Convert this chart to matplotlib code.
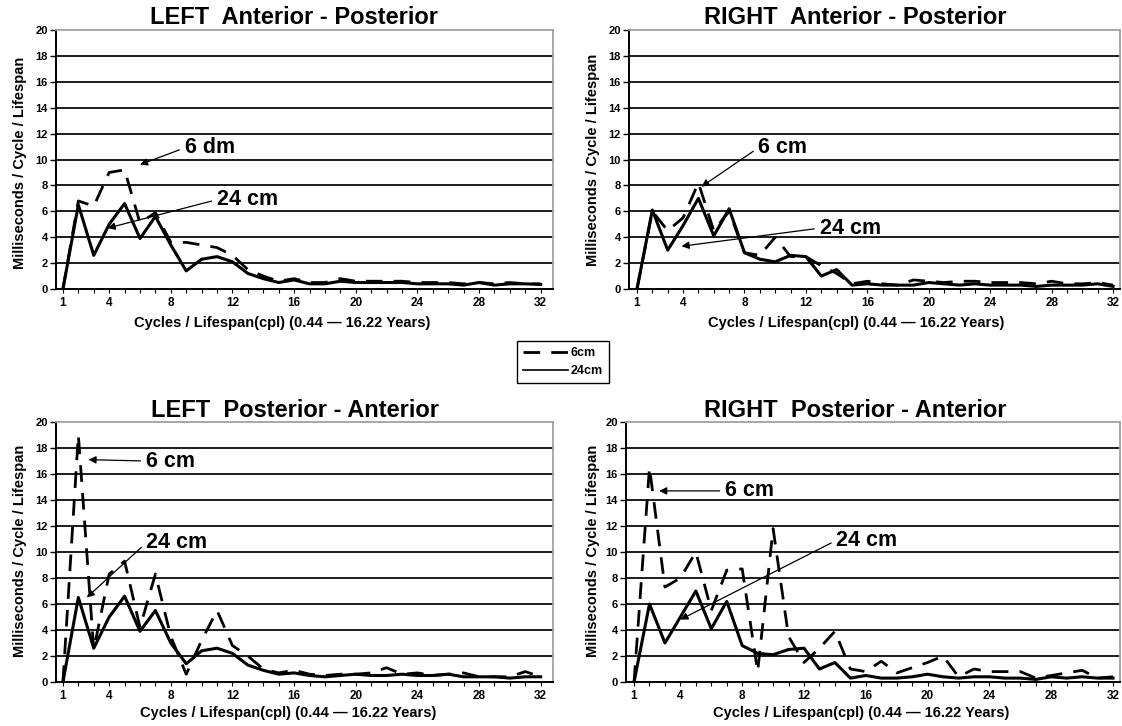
import matplotlib
matplotlib.use('Agg')
import matplotlib.pyplot as plt
from matplotlib.lines import Line2D

plt.rcParams['font.family'] = ['Liberation Sans', 'DejaVu Sans']
plt.rcParams['font.weight'] = 'bold'

# data
cycles = list(range(1, 33))
xtick_vals = [1, 4, 8, 12, 16, 20, 24, 28, 32]
ytick_vals = list(range(0, 21, 2))

left_ap_6 = [0, 6.8, 6.4, 9.0, 9.2, 5.1, 5.9, 3.6, 3.6, 3.4, 3.2, 2.6, 1.5, 1.0, 0.6, 0.8,
             0.5, 0.5, 0.8, 0.6, 0.6, 0.6, 0.6, 0.5, 0.5, 0.5, 0.4, 0.5, 0.4, 0.5, 0.4, 0.4]
left_ap_24 = [0, 6.5, 2.6, 5.0, 6.6, 3.9, 5.6, 3.4, 1.4, 2.3, 2.5, 2.1, 1.2, 0.8, 0.5, 0.7,
              0.4, 0.4, 0.6, 0.5, 0.5, 0.5, 0.5, 0.4, 0.4, 0.4, 0.3, 0.5, 0.3, 0.4, 0.4, 0.35]

right_ap_6 = [0, 6.0, 4.5, 5.5, 8.2, 4.5, 6.0, 2.8, 2.6, 4.0, 2.5, 2.5, 1.8, 1.2, 0.4, 0.6,
              0.4, 0.3, 0.7, 0.6, 0.5, 0.6, 0.6, 0.5, 0.5, 0.5, 0.4, 0.6, 0.4, 0.4, 0.5, 0.3]
right_ap_24 = [0, 6.1, 3.0, 4.9, 7.0, 4.1, 6.2, 2.8, 2.3, 2.1, 2.6, 2.5, 1.0, 1.5, 0.3, 0.4,
               0.3, 0.3, 0.3, 0.5, 0.4, 0.3, 0.4, 0.3, 0.3, 0.3, 0.2, 0.3, 0.3, 0.3, 0.4, 0.2]

left_pa_6 = [0, 19.0, 2.5, 8.3, 9.3, 4.2, 8.3, 3.5, 0.6, 3.2, 5.5, 2.8, 2.0, 1.0, 0.7, 0.9,
             0.6, 0.5, 0.6, 0.6, 0.7, 1.1, 0.6, 0.7, 0.5, 0.6, 0.7, 0.4, 0.4, 0.4, 0.8, 0.4]
left_pa_24 = [0, 6.5, 2.6, 5.0, 6.6, 3.9, 5.5, 3.0, 1.4, 2.4, 2.6, 2.2, 1.3, 0.9, 0.6, 0.7,
              0.5, 0.4, 0.5, 0.6, 0.5, 0.5, 0.6, 0.5, 0.5, 0.6, 0.4, 0.4, 0.4, 0.3, 0.4, 0.4]

right_pa_6 = [0, 16.5, 7.3, 8.0, 10.0, 5.5, 8.6, 8.7, 0.8, 11.8, 3.5, 1.5, 2.6, 3.9, 1.0, 0.8,
              1.6, 0.7, 1.1, 1.5, 2.0, 0.4, 1.0, 0.8, 0.8, 0.8, 0.3, 0.5, 0.7, 0.9, 0.3, 0.4]
right_pa_24 = [0, 6.0, 3.0, 5.0, 7.0, 4.1, 6.2, 2.8, 2.2, 2.1, 2.5, 2.6, 1.0, 1.5, 0.3, 0.5,
               0.3, 0.3, 0.4, 0.6, 0.4, 0.3, 0.4, 0.4, 0.3, 0.3, 0.2, 0.4, 0.3, 0.4, 0.3, 0.3]

titles = ['LEFT  Anterior - Posterior', 'RIGHT  Anterior - Posterior',
          'LEFT  Posterior - Anterior', 'RIGHT  Posterior - Anterior']
xlabel = 'Cycles / Lifespan(cpl) (0.44 \u2014 16.22 Years)'
ylabel = 'Milliseconds / Cycle / Lifespan'

W, H = 1122, 726
fig = plt.figure(figsize=(W / 100, H / 100), dpi=100)


def box(l, t, r, b):
    return [l / W, 1 - b / H, (r - l) / W, (b - t) / H]


def fx(x, y):
    return x / W, 1 - y / H


def draw_panel(pos, y6, y24, xlim, title, tpos, xlpos, ylpos, notes):
    ax = fig.add_axes(box(*pos))
    ax.set_xlim(*xlim)
    ax.set_ylim(0, 20)
    for y in ytick_vals[1:-1]:
        ax.axhline(y, color='#1c1c1c', lw=1.4, zorder=1)
    ax.plot(cycles, y6, color='black', lw=2.0, dashes=(6, 4), zorder=3)
    ax.plot(cycles, y24, color='black', lw=2.2, zorder=4)

    ax.spines['left'].set_color('black')
    ax.spines['bottom'].set_color('black')
    ax.spines['left'].set_linewidth(1.4)
    ax.spines['bottom'].set_linewidth(1.4)
    ax.spines['top'].set_color('#a0a0a0')
    ax.spines['right'].set_color('#a0a0a0')
    ax.spines['top'].set_linewidth(1.3)
    ax.spines['right'].set_linewidth(1.3)

    ax.set_yticks(ytick_vals)
    ax.set_yticklabels([str(v) for v in ytick_vals], fontsize=8, fontweight='bold')
    ax.set_xticks(xtick_vals)
    ax.set_xticklabels([str(v) for v in xtick_vals], fontsize=8.5, fontweight='bold')
    ax.set_xticks(cycles, minor=True)
    ax.tick_params(axis='y', length=4, width=1, pad=2)
    ax.tick_params(axis='x', which='both', length=3, width=0.8, pad=3)

    fig.text(*fx(*tpos), title, ha='center', va='center', fontsize=17, fontweight='bold')
    fig.text(*fx(*xlpos), xlabel, ha='center', va='center', fontsize=10.5, fontweight='bold')
    fig.text(*fx(*ylpos), ylabel, ha='center', va='center', rotation=90,
             fontsize=10.5, fontweight='bold')

    for label, tip, tx in notes:
        ax.annotate(label, xy=tip, xytext=tx, ha='left', va='center',
                    fontsize=15.5, fontweight='bold', zorder=6,
                    arrowprops=dict(arrowstyle='-|>', color='black', lw=0.9,
                                    mutation_scale=11, shrinkA=2, shrinkB=0,
                                    relpos=(0, 0.5)))
    return ax


draw_panel((56, 30, 553, 289), left_ap_6, left_ap_24, (0.55, 32.8), titles[0],
           (294, 17), (282, 323), (20, 163),
           [('6 dm', (6.0, 9.6), (8.9, 10.9)), ('24 cm', (3.9, 4.7), (11.0, 6.9))])
draw_panel((629, 30, 1120, 289), right_ap_6, right_ap_24, (0.48, 32.45), titles[1],
           (855, 17), (856, 323), (593, 160),
           [('6 cm', (5.2, 7.9), (8.9, 10.9)), ('24 cm', (3.9, 3.3), (12.9, 4.7))])
draw_panel((56, 422, 553, 682), left_pa_6, left_pa_24, (0.55, 32.8), titles[2],
           (295, 410), (288, 713), (20, 551),
           [('6 cm', (2.66, 17.1), (6.4, 17.0)), ('24 cm', (2.55, 6.5), (6.4, 10.7))])
draw_panel((626, 422, 1120, 682), right_pa_6, right_pa_24, (0.48, 32.45), titles[3],
           (855, 410), (861, 713), (593, 551),
           [('6 cm', (2.63, 14.7), (6.9, 14.7)), ('24 cm', (4.0, 4.8), (14.1, 10.9))])

handles = [Line2D([], [], color='black', lw=2.0, dashes=(6, 4)),
           Line2D([], [], color='black', lw=1.2)]
leg = fig.legend(handles, ['6cm', '24cm'], loc='center',
                 bbox_to_anchor=fx(563, 362), fontsize=9, handlelength=3.6,
                 fancybox=False, edgecolor='black', framealpha=1,
                 borderpad=0.5, labelspacing=0.5, handletextpad=0.2)
leg.get_frame().set_linewidth(1.0)

fig.savefig('out.png', dpi=100)
